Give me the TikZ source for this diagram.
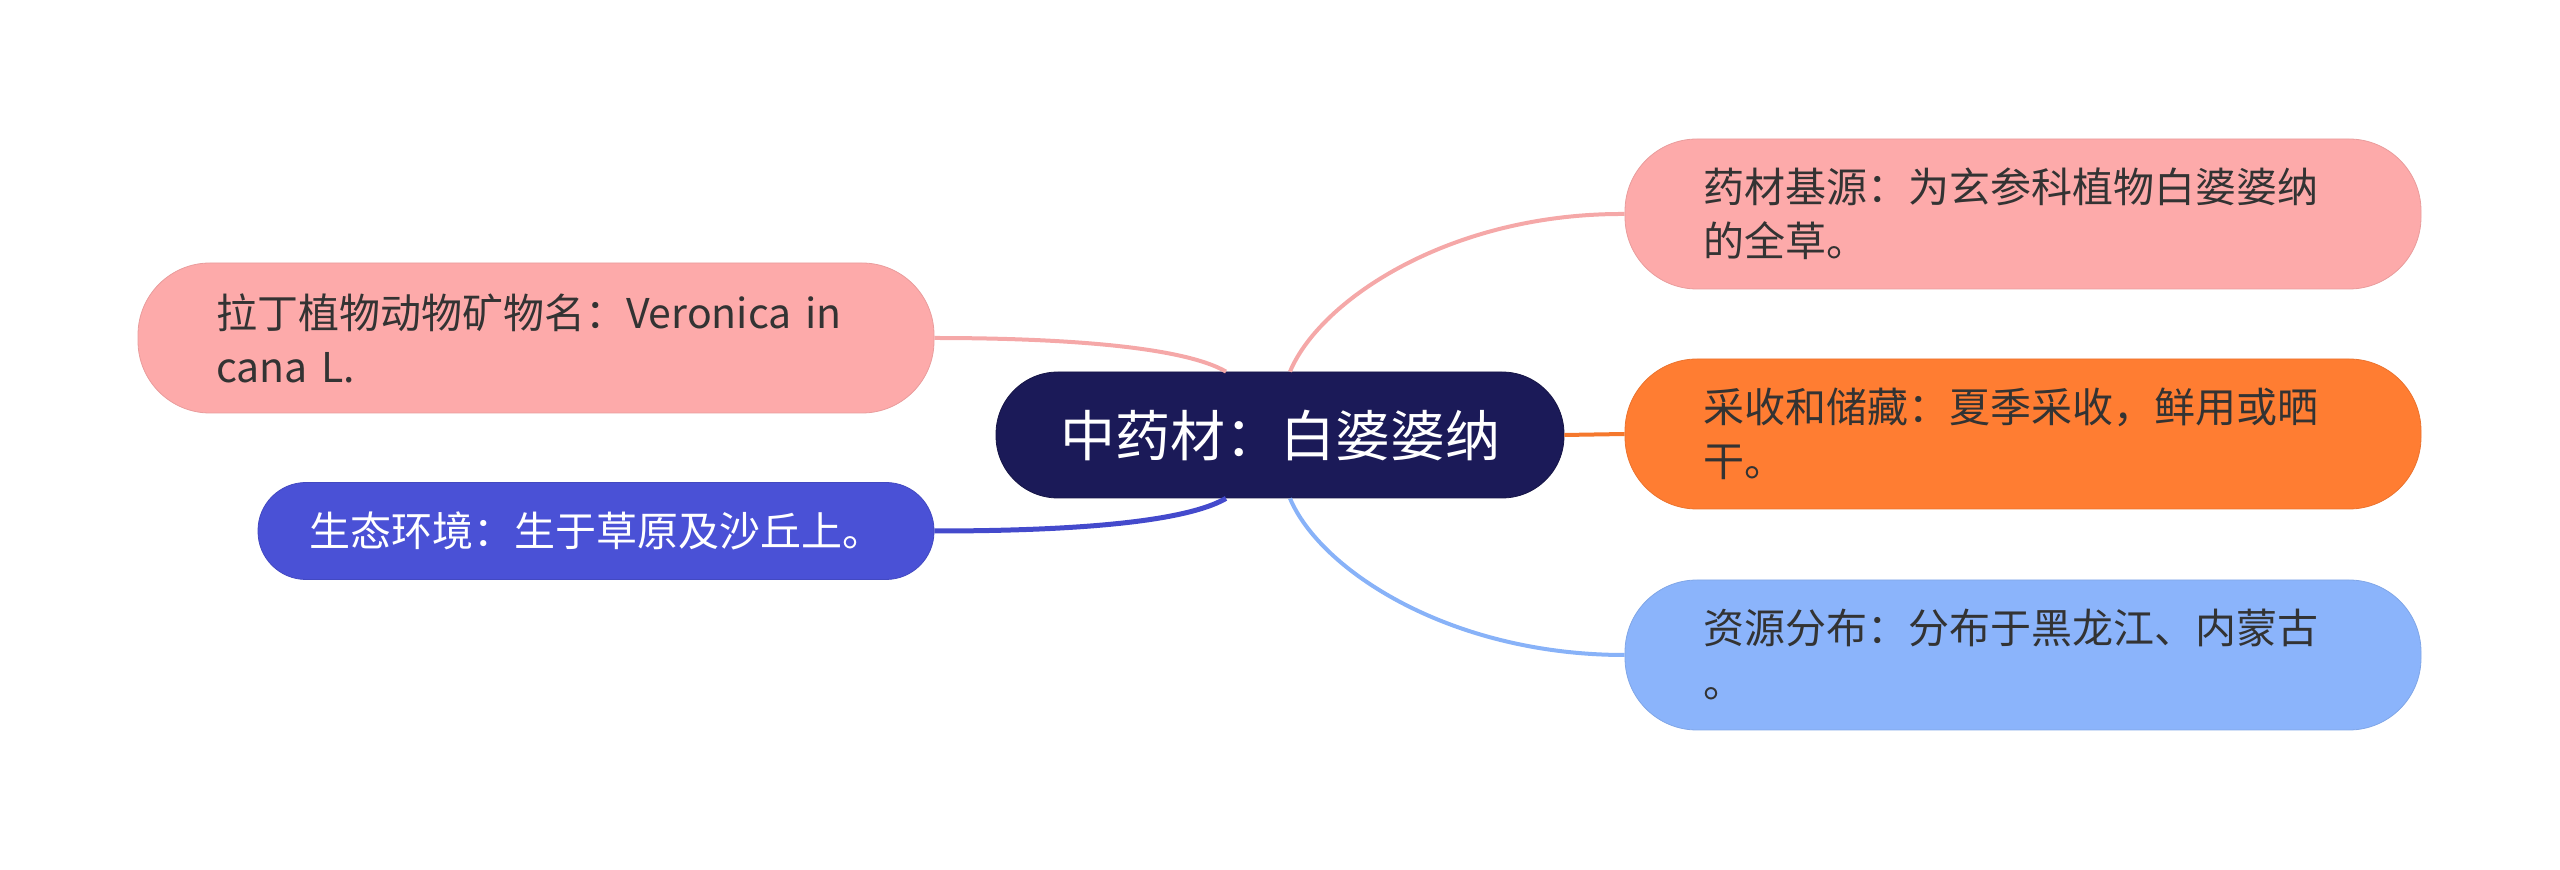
\documentclass[tikz,border=0pt]{standalone}
\usepackage{fontspec}
\setmainfont{Noto Sans CJK SC}
\definecolor{rootfill}{RGB}{27,26,88}
\definecolor{pinkfill}{RGB}{253,170,170}
\definecolor{orangefill}{RGB}{255,125,50}
\definecolor{bluefill}{RGB}{74,81,214}
\definecolor{skyfill}{RGB}{139,180,251}
\definecolor{pinkline}{RGB}{245,168,168}
\definecolor{orangeline}{RGB}{245,120,45}
\definecolor{blueline}{RGB}{68,74,204}
\definecolor{skyline}{RGB}{136,178,248}
\definecolor{textgray}{RGB}{51,51,51}
\begin{document}
\begin{tikzpicture}[
 x=0.5pt, y=-0.5pt,
 inner sep=0pt,
 root/.style={rectangle,rounded corners=31pt,fill=rootfill,draw=rootfill!80!black,line width=0.4pt,text=white,align=center,minimum width=284pt,minimum height=63pt,font=\fontsize{27.5pt}{32pt}\selectfont},
 topic/.style={rectangle,rounded corners=36pt,text=textgray,align=left,text width=320pt,inner xsep=39pt,minimum height=75pt,line width=0.4pt,font=\fontsize{20.5pt}{27pt}\selectfont},
 short/.style={rectangle,rounded corners=24pt,align=center,minimum width=338pt,minimum height=48.5pt,line width=0.4pt,font=\fontsize{20.5pt}{27pt}\selectfont},
 link/.style={line width=2pt}
]
\useasboundingbox (0,0) rectangle (2560,870);
% centre
\node (root-box) [root] at (1280,435) {中药材：白婆婆纳};
% right side
\node (source-box) [topic,fill=pinkfill,draw=pinkfill!92!black] at (2023,214) {药材基源：为玄参科植物白婆婆纳\\的全草。};
\node (harvest-box) [topic,fill=orangefill,draw=orangefill!92!black] at (2023,434) {采收和储藏：夏季采收，鲜用或晒\\干。};
\node (range-box) [topic,fill=skyfill,draw=skyfill!92!black] at (2023,655) {资源分布：分布于黑龙江、内蒙古\\。};
% left side
\node (latin-box) [topic,fill=pinkfill,draw=pinkfill!92!black] at (536,338) {拉丁植物动物矿物名：Veronica in\\cana L.};
\node (habitat-box) [short,fill=bluefill,draw=bluefill!90!black,text=white] at (596,531) {生态环境：生于草原及沙丘上。};
% links
\draw[link,pinkline] ([xshift=5pt]root-box.north) .. controls (1320,300) and (1450,213) .. (source-box.west);
\draw[link,orangeline] (root-box.east) -- (harvest-box.west);
\draw[link,skyline] ([xshift=5pt]root-box.south) .. controls (1320,570) and (1450,655) .. (range-box.west);
\draw[link,pinkline] ([xshift=-27pt]root-box.north) .. controls (1180,345) and (1050,338) .. (latin-box.east);
\draw[link,blueline,line width=2.5pt] ([xshift=-27pt]root-box.south) .. controls (1180,525) and (1050,531) .. (habitat-box.east);
\end{tikzpicture}
\end{document}
